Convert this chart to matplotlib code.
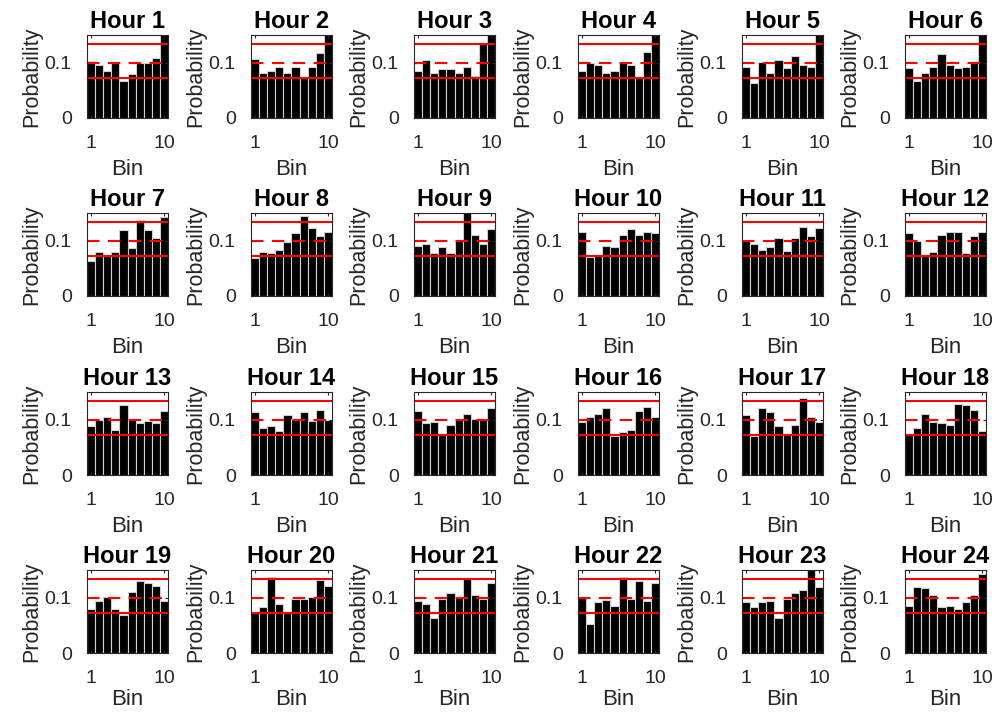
import matplotlib
matplotlib.use("Agg")
import matplotlib.pyplot as plt
import numpy as np

plt.rcParams["font.family"] = ["Liberation Sans", "DejaVu Sans"]

bins = np.arange(1, 11)

# bin probabilities per hour (values above 0.15 are clipped in the original)
hour_01 = [0.103, 0.096, 0.085, 0.099, 0.066, 0.080, 0.099, 0.099, 0.109, 0.160]
hour_02 = [0.106, 0.082, 0.085, 0.093, 0.082, 0.093, 0.072, 0.093, 0.118, 0.160]
hour_03 = [0.085, 0.104, 0.082, 0.088, 0.088, 0.082, 0.093, 0.076, 0.133, 0.160]
hour_04 = [0.085, 0.099, 0.096, 0.082, 0.085, 0.101, 0.096, 0.072, 0.120, 0.160]
hour_05 = [0.093, 0.063, 0.101, 0.082, 0.104, 0.090, 0.112, 0.096, 0.093, 0.160]
hour_06 = [0.090, 0.066, 0.082, 0.093, 0.115, 0.096, 0.090, 0.093, 0.101, 0.160]
hour_07 = [0.064, 0.080, 0.073, 0.080, 0.119, 0.086, 0.138, 0.119, 0.105, 0.143]
hour_08 = [0.069, 0.080, 0.077, 0.083, 0.097, 0.113, 0.144, 0.122, 0.108, 0.116]
hour_09 = [0.091, 0.094, 0.077, 0.089, 0.077, 0.102, 0.155, 0.111, 0.094, 0.121]
hour_10 = [0.116, 0.070, 0.073, 0.091, 0.089, 0.111, 0.121, 0.111, 0.116, 0.114]
hour_11 = [0.099, 0.094, 0.083, 0.089, 0.105, 0.081, 0.105, 0.124, 0.108, 0.122]
hour_12 = [0.113, 0.100, 0.073, 0.080, 0.111, 0.116, 0.116, 0.078, 0.108, 0.116]
hour_13 = [0.088, 0.099, 0.105, 0.082, 0.126, 0.102, 0.094, 0.098, 0.094, 0.115]
hour_14 = [0.113, 0.085, 0.088, 0.079, 0.108, 0.102, 0.113, 0.098, 0.118, 0.099]
hour_15 = [0.115, 0.094, 0.096, 0.073, 0.091, 0.102, 0.110, 0.102, 0.102, 0.121]
hour_16 = [0.096, 0.104, 0.110, 0.121, 0.070, 0.077, 0.082, 0.115, 0.123, 0.104]
hour_17 = [0.108, 0.070, 0.121, 0.113, 0.088, 0.073, 0.091, 0.140, 0.104, 0.096]
hour_18 = [0.073, 0.085, 0.110, 0.096, 0.094, 0.091, 0.129, 0.126, 0.118, 0.079]
hour_19 = [0.079, 0.094, 0.102, 0.079, 0.068, 0.110, 0.130, 0.127, 0.121, 0.094]
hour_20 = [0.072, 0.083, 0.138, 0.088, 0.075, 0.097, 0.097, 0.102, 0.132, 0.121]
hour_21 = [0.094, 0.088, 0.064, 0.097, 0.108, 0.100, 0.133, 0.104, 0.097, 0.127]
hour_22 = [0.100, 0.053, 0.092, 0.095, 0.085, 0.138, 0.097, 0.130, 0.094, 0.127]
hour_23 = [0.092, 0.083, 0.092, 0.094, 0.064, 0.097, 0.108, 0.113, 0.150, 0.119]
hour_24 = [0.085, 0.119, 0.117, 0.104, 0.083, 0.085, 0.079, 0.092, 0.105, 0.142]

hours = [hour_01, hour_02, hour_03, hour_04, hour_05, hour_06,
         hour_07, hour_08, hour_09, hour_10, hour_11, hour_12,
         hour_13, hour_14, hour_15, hour_16, hour_17, hour_18,
         hour_19, hour_20, hour_21, hour_22, hour_23, hour_24]

expected = 0.1
upper, lower = 0.134, 0.072

W, H = 994, 712
fig = plt.figure(figsize=(W / 100, H / 100), dpi=100)

lefts = [87, 251, 414, 578, 742, 905]
tops = [35, 213, 392, 570]
aw, ah = 81, 83
text_c = "#262626"

for i, vals in enumerate(hours):
    r, c = divmod(i, 6)
    ax = fig.add_axes([lefts[c] / W, 1 - (tops[r] + ah) / H, aw / W, ah / H])
    ax.bar(bins, vals, width=1.0, color="black", edgecolor="#d0d0d0", linewidth=0.8)
    ax.axhline(upper, color="red", lw=1.5)
    ax.axhline(lower, color="red", lw=1.5)
    ax.axhline(expected, color="red", lw=1.5, ls=(0, (6, 4)))
    ax.set_xlim(0.5, 10.5)
    ax.set_ylim(0, 0.15)
    ax.set_xticks([1, 10])
    ax.set_yticks([0, 0.1])
    ax.set_yticklabels(["0", "0.1"])
    ax.tick_params(direction="in", length=2, top=True, right=True, labelsize=14,
                   colors=text_c, labelcolor=text_c)
    ax.tick_params(axis="x", pad=12)
    ax.tick_params(axis="y", pad=11)
    for s in ax.spines.values():
        s.set_color(text_c)
        s.set_linewidth(0.8)
    ax.set_title(f"Hour {i + 1}", fontsize=17, fontweight="bold", pad=5)
    # bottom row sits right at the figure edge, keep its label inside
    ax.set_xlabel("Bin", fontsize=16, color=text_c, labelpad=2 if r == 3 else 5)
    ax.set_ylabel("Probability", fontsize=15.5, color=text_c, labelpad=2)

fig.savefig("out.png", dpi=100)
